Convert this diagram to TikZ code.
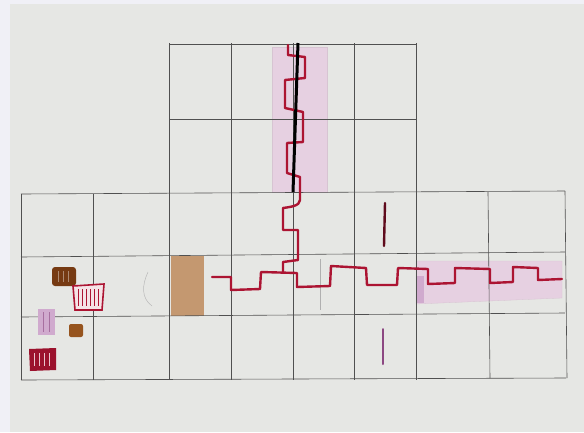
\documentclass[tikz,border=0pt]{standalone}
\definecolor{paper}{RGB}{230,231,228}
\definecolor{margin}{RGB}{240,240,246}
\definecolor{pencil}{RGB}{80,80,80}
\definecolor{crimson}{RGB}{172,20,50}
\definecolor{rosewash}{RGB}{230,208,225}
\definecolor{clay}{RGB}{196,152,112}
\definecolor{umber}{RGB}{118,58,18}
\definecolor{ochre}{RGB}{150,84,30}
\definecolor{mauve}{RGB}{208,170,206}
\definecolor{plum}{RGB}{140,72,130}

\begin{document}
\begin{tikzpicture}[x=1pt, y=-1pt,
    gridline/.style={pencil, line width=0.6pt},
    redline/.style={crimson, line width=2.4pt, line join=round, line cap=round},
    wash/.style={fill=rosewash, draw=rosewash!85!gray, line width=0.3pt}]
    \useasboundingbox (0,0) rectangle (584,432);

    % Paper
    \fill[paper] (0,0) rectangle (584,432);
    \fill[margin] (0,0) rectangle (10,432);
    \fill[margin] (0,0) rectangle (584,4);

    % Shaded strips
    \fill[wash] (272,47) rectangle (327,192);
    \fill[wash] (416,261) -- (562,261) -- (562,298) -- (416,304) -- cycle;
    \fill[mauve] (416,276) rectangle (424,303);

    % Brown block
    \fill[clay] (171,256) rectangle (204,316);

    % Top grid
    \foreach \y in {44,119} \draw[gridline] (169,\y) -- (416,\y);
    \foreach \x in {169,231,293,354,416} \draw[gridline] (\x,43) -- (\x,380);

    % Lower grid
    \draw[gridline] (21,194) -- (565,191);
    \draw[gridline] (21,257) -- (565,252);
    \draw[gridline] (21,317) -- (565,313);
    \draw[gridline] (21,380) -- (566,378);
    \foreach \x in {21,93} \draw[gridline] (\x,194) -- (\x,380);
    \draw[gridline] (488,192) -- (490,378);
    \draw[gridline] (565,191) -- (567,378);
    \draw[gridline, pencil!45] (320,259) -- (320,310);

    % Vertical red wiggle
    \draw[redline] (288,45) -- (288,55) -- (305,57) -- (305,78) -- (285,80)
        -- (285,108) -- (303,112) -- (303,142) -- (287,143) -- (287,173)
        -- (300,177) -- (300,200) .. controls (300,206) and (290,207) .. (283,208)
        -- (283,230) -- (298,230) -- (298,260) -- (283,262) -- (283,272);

    % Horizontal red wiggle
    \draw[redline] (212,277) -- (231,277) -- (231,290) -- (260,289) -- (261,272)
        -- (297,273) -- (297,287) -- (330,286) -- (331,266) -- (366,268)
        -- (367,285) -- (397,285) -- (398,268) -- (428,269) -- (428,284)
        -- (455,283) -- (455,268) -- (490,269) -- (490,283) -- (513,282)
        -- (513,267) -- (538,268) -- (538,280) -- (562,279);

    % Black rod
    \draw[black, line width=3pt] (298,43) -- (293,192);

    % Short strokes
    \draw[crimson!55!black, line width=2.4pt, line cap=round] (385,203) -- (384,246);
    \draw[plum, line width=2pt, line cap=round] (383,329) -- (383,364);

    % Small swatches
    \fill[umber, rounded corners=3pt] (52,267) rectangle (76,286);
    \foreach \x in {58,63,68} \draw[umber!60!white, line width=0.6pt] (\x,271) -- (\x,282);
    \draw[crimson, line width=1.6pt, fill=crimson!12] (73,286) -- (104,284) -- (102,310) -- (75,310) -- cycle;
    \foreach \x in {78,82,...,98} \draw[crimson, line width=1pt] (\x,289) -- (\x,306);
    \fill[mauve] (38,309) rectangle (55,335);
    \foreach \x in {43,49} \draw[plum!60!mauve, line width=0.7pt] (\x,312) -- (\x,332);
    \fill[ochre, rounded corners=2pt] (69,324) rectangle (83,337);
    \fill[crimson!90!black] (29,349) -- (56,348) -- (56,370) -- (30,371) -- cycle;
    \foreach \x in {34,39,...,51} \draw[crimson!25, line width=0.7pt] (\x,353) -- (\x,366);

    % Pencil mark
    \draw[pencil!40, line width=0.5pt] (148,272) .. controls (142,285) and (141,298) .. (152,306);
\end{tikzpicture}
\end{document}
